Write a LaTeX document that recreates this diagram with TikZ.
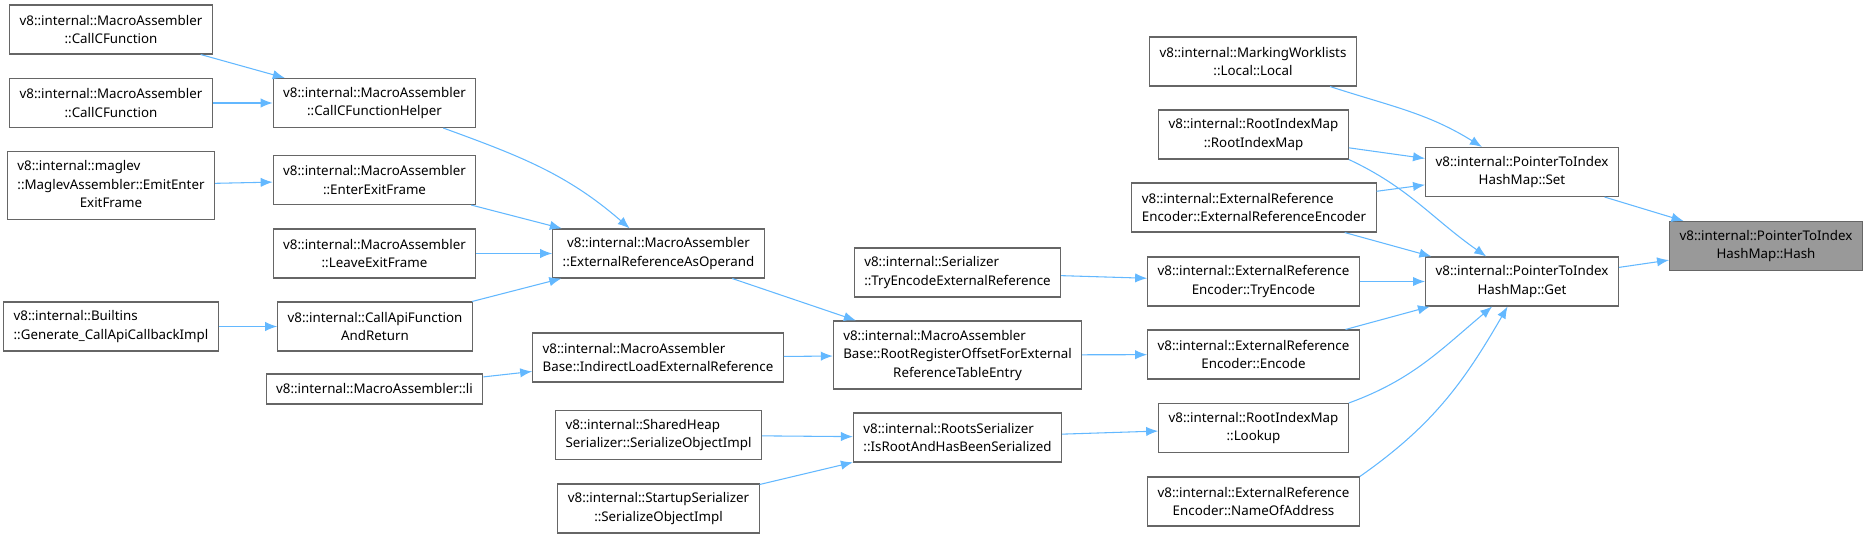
\documentclass[tikz,border=0pt]{standalone}
\usepackage{fontspec}
\setmainfont{Noto Sans}
\usepackage{tikz}
\usetikzlibrary{arrows.meta, positioning}
\definecolor{dedge}{HTML}{63B8FF}
\definecolor{dline}{HTML}{666666}
\definecolor{dhit}{HTML}{999999}
\tikzset{
  >=Latex,
  fn/.style={
    draw=dline, fill=#1, line width=0.8pt, align=center,
    inner xsep=7.5pt, inner ysep=3pt, minimum height=36.75pt,
    font=\fontsize{10}{13.9}\selectfont
  },
  fn/.default=white,
  fnl/.style={fn, align=left},
  fn3/.style={fn, minimum height=51pt, inner xsep=7.5pt},
  fn1/.style={fn, minimum height=22.5pt},
  call/.style={-{Latex[length=9pt,width=7pt]}, line width=0.8pt, draw=dedge}
}
\newcommand{\flushln}[1]{\multicolumn{1}{@{}l@{}}{#1}}
\begin{document}
\begin{tikzpicture}[x=0.75pt,y=-0.75pt]
  \useasboundingbox (0,0) rectangle (1869,538);
  \node[fn] (cf1) at (111,29.5) {v8::internal::MacroAssembler\\::CallCFunction};
  \node[fn] (cf2) at (111,103) {v8::internal::MacroAssembler\\::CallCFunction};
  \node[fn3] (maglev) at (111,185.5) {\begin{tabular}{@{}c@{}}\flushln{v8::internal::maglev}\\::MaglevAssembler::EmitEnter\\ExitFrame\end{tabular}};
  \node[fnl] (builtins) at (111,326.5) {v8::internal::Builtins\\::Generate\_CallApiCallbackImpl};
  \node[fn] (helper) at (374.5,103) {v8::internal::MacroAssembler\\::CallCFunctionHelper};
  \node[fn] (enter) at (374.5,180) {v8::internal::MacroAssembler\\::EnterExitFrame};
  \node[fn] (leave) at (374.5,253.5) {v8::internal::MacroAssembler\\::LeaveExitFrame};
  \node[fn] (callapi) at (375,326.5) {v8::internal::CallApiFunction\\AndReturn};
  \node[fn1] (li) at (374.5,389) {v8::internal::MacroAssembler::li};
  \node[fn] (extop) at (658.5,253.5) {v8::internal::MacroAssembler\\::ExternalReferenceAsOperand};
  \node[fnl] (indirect) at (658,357.5) {v8::internal::MacroAssembler\\Base::IndirectLoadExternalReference};
  \node[fnl] (shared) at (658.5,435) {v8::internal::SharedHeap\\Serializer::SerializeObjectImpl};
  \node[fn] (startup) at (658.5,508.5) {v8::internal::StartupSerializer\\::SerializeObjectImpl};
  \node[fnl] (serializer) at (957.5,272.5) {v8::internal::Serializer\\::TryEncodeExternalReference};
  \node[fn3] (rootreg) at (957.5,355) {\begin{tabular}{@{}c@{}}\flushln{v8::internal::MacroAssembler}\\Base::RootRegisterOffsetForExternal\\ReferenceTableEntry\end{tabular}};
  \node[fnl] (roots) at (957.5,437.5) {v8::internal::RootsSerializer\\::IsRootAndHasBeenSerialized};
  \node[fn] (marking) at (1253,61.5) {v8::internal::MarkingWorklists\\::Local::Local};
  \node[fn] (rimap) at (1253.5,134.5) {v8::internal::RootIndexMap\\::RootIndexMap};
  \node[fnl] (ereenc) at (1254,207.5) {v8::internal::ExternalReference\\Encoder::ExternalReferenceEncoder};
  \node[fn] (tryenc) at (1253.5,281.5) {v8::internal::ExternalReference\\Encoder::TryEncode};
  \node[fn] (encode) at (1253.5,354.5) {v8::internal::ExternalReference\\Encoder::Encode};
  \node[fn] (lookup) at (1253.5,428) {v8::internal::RootIndexMap\\::Lookup};
  \node[fn] (nameof) at (1253.5,501.5) {v8::internal::ExternalReference\\Encoder::NameOfAddress};
  \node[fn] (set) at (1522,172) {v8::internal::PointerToIndex\\HashMap::Set};
  \node[fn] (get) at (1522,281.5) {v8::internal::PointerToIndex\\HashMap::Get};
  \node[fn=dhit] (hash) at (1766,246) {v8::internal::PointerToIndex\\HashMap::Hash};
  \draw[call] (cf1) -- (helper);
  \draw[call] (cf2) -- (helper);
  \draw[call] (maglev) -- (enter);
  \draw[call] (builtins) -- (callapi);
  \draw[call] (helper) to[out=-20,in=139] (extop);
  \draw[call] (enter) -- (extop);
  \draw[call] (leave) -- (extop);
  \draw[call] (callapi) -- (extop);
  \draw[call] (li) -- (indirect);
  \draw[call] (extop) -- (rootreg);
  \draw[call] (indirect) -- (rootreg);
  \draw[call] (shared) -- (roots);
  \draw[call] (startup) -- (roots);
  \draw[call] (serializer) -- (tryenc);
  \draw[call] (rootreg) -- (encode);
  \draw[call] (roots) -- (lookup);
  \draw[call] (marking) to[out=-18,in=148] (set);
  \draw[call] (rimap) -- (set);
  \draw[call] (rimap.south east) to[out=-25,in=145] (get);
  \draw[call] (ereenc) -- (set);
  \draw[call] (ereenc) -- (get);
  \draw[call] (tryenc) -- (get);
  \draw[call] (encode) -- (get);
  \draw[call] (lookup.north east) to[out=20,in=-140] (get);
  \draw[call] (nameof.north east) to[out=35,in=-120] (get);
  \draw[call] (set) -- (hash);
  \draw[call] (get) -- (hash);
\end{tikzpicture}
\end{document}
